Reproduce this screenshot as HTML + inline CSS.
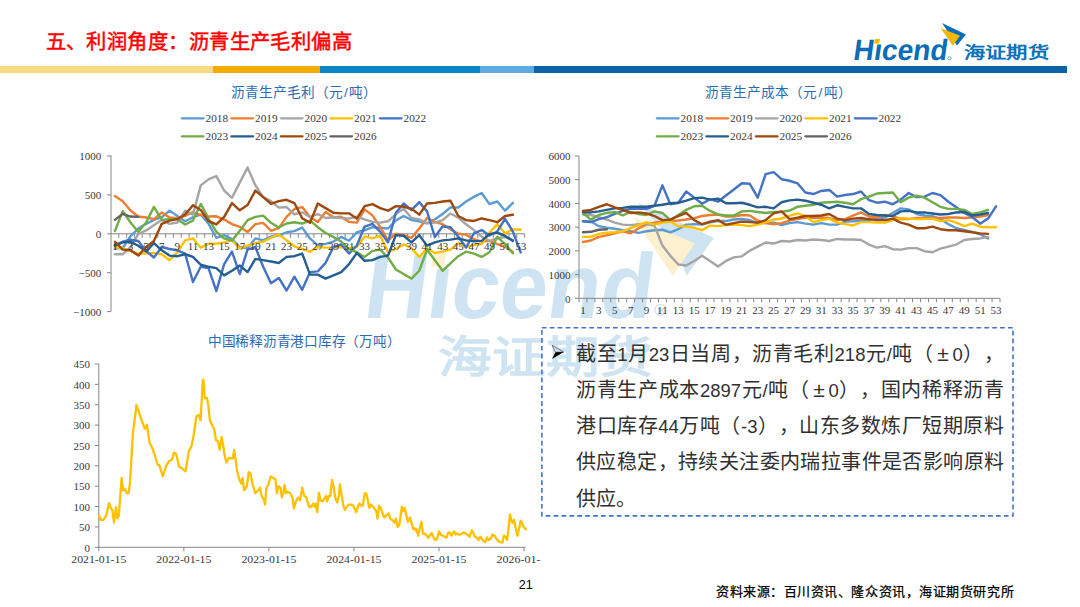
<!DOCTYPE html>
<html lang="zh-CN"><head><meta charset="utf-8"><style>
html,body{margin:0;padding:0;background:#fff;}
#s{text-spacing-trim:space-all;position:relative;width:1080px;height:607px;overflow:hidden;background:#fff;font-family:"Liberation Sans",sans-serif;}
svg{position:absolute;left:0;top:0;}
.ax{font-family:"Liberation Serif",serif;font-size:11px;fill:#383838;}
.lg{font-family:"Liberation Serif",serif;font-size:11.3px;fill:#383838;}
.ct{position:absolute;font-family:"Liberation Sans",sans-serif;font-size:13.7px;color:#2A6BB3;white-space:nowrap;line-height:16px;}
.ct i{font-style:normal;padding:0 1.5px;}
.wm{font-family:"Liberation Sans",sans-serif;font-size:87px;font-weight:bold;}
.wmc{font-family:"Liberation Sans",sans-serif;font-size:52px;font-weight:bold;fill:#CFE4F2;}
#title{position:absolute;left:45.5px;top:24.9px;font-size:20.3px;font-weight:normal;-webkit-text-stroke:0.5px #FF0000;color:#FF0000;white-space:nowrap;letter-spacing:0.45px;}
.ln{position:absolute;left:576px;width:428px;font-size:20px;color:#303030;white-space:nowrap;text-align:justify;text-align-last:justify;height:30px;line-height:30px;}
.ln b{font-weight:normal;font-size:18.5px;}
.ln b.pm{display:inline-block;width:19px;text-align:center;text-align-last:center;font-size:21px;}
#src{position:absolute;left:716px;top:581px;font-size:13px;letter-spacing:0.55px;-webkit-text-stroke:0.25px #000;font-family:"Liberation Serif",serif;color:#000;white-space:nowrap;}
#pg{position:absolute;left:518.8px;top:577.5px;font-size:12.6px;color:#000;line-height:15px;}
</style></head><body><div id="s">
<svg width="1080" height="607" viewBox="0 0 1080 607">
<polygon points="637.3,202.4 713.9,237.8 686.7,275.7 672,240" fill="#CFE4F2"/>
<polygon points="633.2,217.2 695,243.5 672.7,275.7" fill="#FDF0CF"/>
<text id="wmh" x="361.9" y="0" textLength="288.5" lengthAdjust="spacingAndGlyphs" class="wm" fill="#CFE4F2" transform="translate(0,317.6) scale(1,1.06) skewX(-8)">H&#x131;cend</text>
<polygon points="433.2,252.6 446.2,252.6 444.2,266.7 431.2,266.7" fill="#FDF0CF"/>
<circle cx="660.6" cy="310" r="5.6" fill="none" stroke="#CFE4F2" stroke-width="1.3"/><text x="657.4" y="313.6" style="font-family:Liberation Sans,sans-serif;font-size:9.5px;font-weight:bold;fill:#CFE4F2">R</text>
<text id="wmc" x="438.5" y="0" textLength="214.5" lengthAdjust="spacingAndGlyphs" class="wmc" transform="translate(0,372.8) scale(1,0.843)">海证期货</text>
</svg>
<div style="position:absolute;left:0;top:66px;width:213px;height:7px;background:#F9DA86"></div>
<div style="position:absolute;left:213px;top:66px;width:107px;height:7px;background:#F2AC00"></div>
<div style="position:absolute;left:320px;top:66px;width:160px;height:7px;background:#0A86C7"></div>
<div style="position:absolute;left:480px;top:66px;width:54px;height:7px;background:#5FABDF"></div>
<div style="position:absolute;left:534px;top:66px;width:533px;height:7px;background:#0E62A6"></div>
<div id="title">五、利润角度：沥青生产毛利偏高</div>
<svg width="1080" height="607" viewBox="0 0 1080 607">
<g>
<text id="logo" x="861" y="60" textLength="94" lengthAdjust="spacingAndGlyphs" transform="skewX(-8)" style="font-family:'Liberation Sans',sans-serif;font-size:29.5px;font-weight:bold;fill:#0A6DB8">H&#x131;cend</text>
<polygon points="875,39 880,39 879,43.5 874,43.5" fill="#F6B800"/>
<polygon points="942,23 966,34.5 957,45.5" fill="#0A6DB8"/>
<polygon points="940.5,28 960,35.8 952.8,45.8" fill="#F6B800"/>
<circle cx="949.5" cy="58.3" r="1.6" fill="none" stroke="#0A6DB8" stroke-width="0.6"/>
<text id="logoc" x="963.8" y="0" textLength="85" lengthAdjust="spacingAndGlyphs" transform="translate(0,57.9) scale(1,0.8)" style="font-family:'Liberation Sans',sans-serif;font-size:20px;font-weight:bold;fill:#0C72BA">海证期货</text>
</g>

<line x1="181.85" y1="118.3" x2="203.6" y2="118.3" stroke="#5B9BD5" stroke-width="2.3" stroke-linecap="round"/>
<text x="205.5" y="122.3" class="lg">2018</text>
<line x1="231.35" y1="118.3" x2="253.1" y2="118.3" stroke="#ED7D31" stroke-width="2.3" stroke-linecap="round"/>
<text x="255" y="122.3" class="lg">2019</text>
<line x1="280.85" y1="118.3" x2="302.6" y2="118.3" stroke="#A5A5A5" stroke-width="2.3" stroke-linecap="round"/>
<text x="304.5" y="122.3" class="lg">2020</text>
<line x1="330.35" y1="118.3" x2="352.1" y2="118.3" stroke="#FFC000" stroke-width="2.3" stroke-linecap="round"/>
<text x="354" y="122.3" class="lg">2021</text>
<line x1="379.85" y1="118.3" x2="401.6" y2="118.3" stroke="#4472C4" stroke-width="2.3" stroke-linecap="round"/>
<text x="403.5" y="122.3" class="lg">2022</text>
<line x1="181.85" y1="136.3" x2="203.6" y2="136.3" stroke="#70AD47" stroke-width="2.3" stroke-linecap="round"/>
<text x="205.5" y="140.3" class="lg">2023</text>
<line x1="231.35" y1="136.3" x2="253.1" y2="136.3" stroke="#255E91" stroke-width="2.3" stroke-linecap="round"/>
<text x="255" y="140.3" class="lg">2024</text>
<line x1="280.85" y1="136.3" x2="302.6" y2="136.3" stroke="#9E480E" stroke-width="2.3" stroke-linecap="round"/>
<text x="304.5" y="140.3" class="lg">2025</text>
<line x1="330.35" y1="136.3" x2="352.1" y2="136.3" stroke="#636363" stroke-width="2.3" stroke-linecap="round"/>
<text x="354" y="140.3" class="lg">2026</text>
<line x1="656.85" y1="118.3" x2="678.6" y2="118.3" stroke="#5B9BD5" stroke-width="2.3" stroke-linecap="round"/>
<text x="680.5" y="122.3" class="lg">2018</text>
<line x1="706.35" y1="118.3" x2="728.1" y2="118.3" stroke="#ED7D31" stroke-width="2.3" stroke-linecap="round"/>
<text x="730" y="122.3" class="lg">2019</text>
<line x1="755.85" y1="118.3" x2="777.6" y2="118.3" stroke="#A5A5A5" stroke-width="2.3" stroke-linecap="round"/>
<text x="779.5" y="122.3" class="lg">2020</text>
<line x1="805.35" y1="118.3" x2="827.1" y2="118.3" stroke="#FFC000" stroke-width="2.3" stroke-linecap="round"/>
<text x="829" y="122.3" class="lg">2021</text>
<line x1="854.85" y1="118.3" x2="876.6" y2="118.3" stroke="#4472C4" stroke-width="2.3" stroke-linecap="round"/>
<text x="878.5" y="122.3" class="lg">2022</text>
<line x1="656.85" y1="136.3" x2="678.6" y2="136.3" stroke="#70AD47" stroke-width="2.3" stroke-linecap="round"/>
<text x="680.5" y="140.3" class="lg">2023</text>
<line x1="706.35" y1="136.3" x2="728.1" y2="136.3" stroke="#255E91" stroke-width="2.3" stroke-linecap="round"/>
<text x="730" y="140.3" class="lg">2024</text>
<line x1="755.85" y1="136.3" x2="777.6" y2="136.3" stroke="#9E480E" stroke-width="2.3" stroke-linecap="round"/>
<text x="779.5" y="140.3" class="lg">2025</text>
<line x1="805.35" y1="136.3" x2="827.1" y2="136.3" stroke="#636363" stroke-width="2.3" stroke-linecap="round"/>
<text x="829" y="140.3" class="lg">2026</text>
<line x1="111.0" y1="155.5" x2="111.0" y2="311.5" stroke="#868686" stroke-width="1"/>
<line x1="107.0" y1="156" x2="111.0" y2="156" stroke="#868686" stroke-width="1"/>
<text x="101.2" y="160.2" text-anchor="end" class="ax">1000</text>
<line x1="107.0" y1="194.9" x2="111.0" y2="194.9" stroke="#868686" stroke-width="1"/>
<text x="101.2" y="199.1" text-anchor="end" class="ax">500</text>
<line x1="107.0" y1="233.8" x2="111.0" y2="233.8" stroke="#868686" stroke-width="1"/>
<text x="101.2" y="238" text-anchor="end" class="ax">0</text>
<line x1="107.0" y1="272.7" x2="111.0" y2="272.7" stroke="#868686" stroke-width="1"/>
<text x="101.2" y="276.9" text-anchor="end" class="ax">−500</text>
<line x1="107.0" y1="311.6" x2="111.0" y2="311.6" stroke="#868686" stroke-width="1"/>
<text x="101.2" y="315.8" text-anchor="end" class="ax">−1000</text>
<line x1="111.0" y1="233.8" x2="524.6" y2="233.8" stroke="#868686" stroke-width="1"/>
<line x1="118.8" y1="233.8" x2="118.8" y2="237.8" stroke="#868686" stroke-width="1"/>
<line x1="126.61" y1="233.8" x2="126.61" y2="237.8" stroke="#868686" stroke-width="1"/>
<line x1="134.41" y1="233.8" x2="134.41" y2="237.8" stroke="#868686" stroke-width="1"/>
<line x1="142.22" y1="233.8" x2="142.22" y2="237.8" stroke="#868686" stroke-width="1"/>
<line x1="150.02" y1="233.8" x2="150.02" y2="237.8" stroke="#868686" stroke-width="1"/>
<line x1="157.82" y1="233.8" x2="157.82" y2="237.8" stroke="#868686" stroke-width="1"/>
<line x1="165.63" y1="233.8" x2="165.63" y2="237.8" stroke="#868686" stroke-width="1"/>
<line x1="173.43" y1="233.8" x2="173.43" y2="237.8" stroke="#868686" stroke-width="1"/>
<line x1="181.23" y1="233.8" x2="181.23" y2="237.8" stroke="#868686" stroke-width="1"/>
<line x1="189.04" y1="233.8" x2="189.04" y2="237.8" stroke="#868686" stroke-width="1"/>
<line x1="196.84" y1="233.8" x2="196.84" y2="237.8" stroke="#868686" stroke-width="1"/>
<line x1="204.65" y1="233.8" x2="204.65" y2="237.8" stroke="#868686" stroke-width="1"/>
<line x1="212.45" y1="233.8" x2="212.45" y2="237.8" stroke="#868686" stroke-width="1"/>
<line x1="220.25" y1="233.8" x2="220.25" y2="237.8" stroke="#868686" stroke-width="1"/>
<line x1="228.06" y1="233.8" x2="228.06" y2="237.8" stroke="#868686" stroke-width="1"/>
<line x1="235.86" y1="233.8" x2="235.86" y2="237.8" stroke="#868686" stroke-width="1"/>
<line x1="243.66" y1="233.8" x2="243.66" y2="237.8" stroke="#868686" stroke-width="1"/>
<line x1="251.47" y1="233.8" x2="251.47" y2="237.8" stroke="#868686" stroke-width="1"/>
<line x1="259.27" y1="233.8" x2="259.27" y2="237.8" stroke="#868686" stroke-width="1"/>
<line x1="267.08" y1="233.8" x2="267.08" y2="237.8" stroke="#868686" stroke-width="1"/>
<line x1="274.88" y1="233.8" x2="274.88" y2="237.8" stroke="#868686" stroke-width="1"/>
<line x1="282.68" y1="233.8" x2="282.68" y2="237.8" stroke="#868686" stroke-width="1"/>
<line x1="290.49" y1="233.8" x2="290.49" y2="237.8" stroke="#868686" stroke-width="1"/>
<line x1="298.29" y1="233.8" x2="298.29" y2="237.8" stroke="#868686" stroke-width="1"/>
<line x1="306.09" y1="233.8" x2="306.09" y2="237.8" stroke="#868686" stroke-width="1"/>
<line x1="313.9" y1="233.8" x2="313.9" y2="237.8" stroke="#868686" stroke-width="1"/>
<line x1="321.7" y1="233.8" x2="321.7" y2="237.8" stroke="#868686" stroke-width="1"/>
<line x1="329.51" y1="233.8" x2="329.51" y2="237.8" stroke="#868686" stroke-width="1"/>
<line x1="337.31" y1="233.8" x2="337.31" y2="237.8" stroke="#868686" stroke-width="1"/>
<line x1="345.11" y1="233.8" x2="345.11" y2="237.8" stroke="#868686" stroke-width="1"/>
<line x1="352.92" y1="233.8" x2="352.92" y2="237.8" stroke="#868686" stroke-width="1"/>
<line x1="360.72" y1="233.8" x2="360.72" y2="237.8" stroke="#868686" stroke-width="1"/>
<line x1="368.52" y1="233.8" x2="368.52" y2="237.8" stroke="#868686" stroke-width="1"/>
<line x1="376.33" y1="233.8" x2="376.33" y2="237.8" stroke="#868686" stroke-width="1"/>
<line x1="384.13" y1="233.8" x2="384.13" y2="237.8" stroke="#868686" stroke-width="1"/>
<line x1="391.94" y1="233.8" x2="391.94" y2="237.8" stroke="#868686" stroke-width="1"/>
<line x1="399.74" y1="233.8" x2="399.74" y2="237.8" stroke="#868686" stroke-width="1"/>
<line x1="407.54" y1="233.8" x2="407.54" y2="237.8" stroke="#868686" stroke-width="1"/>
<line x1="415.35" y1="233.8" x2="415.35" y2="237.8" stroke="#868686" stroke-width="1"/>
<line x1="423.15" y1="233.8" x2="423.15" y2="237.8" stroke="#868686" stroke-width="1"/>
<line x1="430.95" y1="233.8" x2="430.95" y2="237.8" stroke="#868686" stroke-width="1"/>
<line x1="438.76" y1="233.8" x2="438.76" y2="237.8" stroke="#868686" stroke-width="1"/>
<line x1="446.56" y1="233.8" x2="446.56" y2="237.8" stroke="#868686" stroke-width="1"/>
<line x1="454.37" y1="233.8" x2="454.37" y2="237.8" stroke="#868686" stroke-width="1"/>
<line x1="462.17" y1="233.8" x2="462.17" y2="237.8" stroke="#868686" stroke-width="1"/>
<line x1="469.97" y1="233.8" x2="469.97" y2="237.8" stroke="#868686" stroke-width="1"/>
<line x1="477.78" y1="233.8" x2="477.78" y2="237.8" stroke="#868686" stroke-width="1"/>
<line x1="485.58" y1="233.8" x2="485.58" y2="237.8" stroke="#868686" stroke-width="1"/>
<line x1="493.38" y1="233.8" x2="493.38" y2="237.8" stroke="#868686" stroke-width="1"/>
<line x1="501.19" y1="233.8" x2="501.19" y2="237.8" stroke="#868686" stroke-width="1"/>
<line x1="508.99" y1="233.8" x2="508.99" y2="237.8" stroke="#868686" stroke-width="1"/>
<line x1="516.8" y1="233.8" x2="516.8" y2="237.8" stroke="#868686" stroke-width="1"/>
<line x1="524.6" y1="233.8" x2="524.6" y2="237.8" stroke="#868686" stroke-width="1"/>
<polyline points="114.9,248.27 122.71,248.27 130.51,236.13 138.31,228.51 146.12,223.84 153.92,219.87 161.72,217.23 169.53,210.62 177.33,215.91 185.14,221.2 192.94,217.23 200.74,214.58 208.55,223.84 216.35,237.77 224.15,235.12 231.96,239.09 239.76,247.03 247.57,248.27 255.37,238.39 263.17,240.41 270.98,236.45 278.78,235.36 286.58,232.24 294.39,231.08 302.19,227.58 310,238.47 317.8,245.47 325.6,243.91 333.41,241.58 341.21,236.91 349.02,240.8 356.82,232.24 364.62,230.3 372.43,227.19 380.23,227.89 388.03,228.51 395.84,220.57 403.64,215.98 411.45,219.95 419.25,221.27 427.05,223.22 434.86,219.33 442.66,214.04 450.46,207.43 458.27,207.43 466.07,201.51 473.88,196.85 481.68,192.96 489.48,204.16 497.29,201.51 505.09,210.69 512.89,202.84" fill="none" stroke="#5B9BD5" stroke-width="2.4" stroke-linejoin="round" stroke-linecap="round"/>
<polyline points="114.9,195.99 122.71,201.28 130.51,210.54 138.31,216.53 146.12,217.46 153.92,219.17 161.72,212.56 169.53,217.46 177.33,218.24 185.14,215.91 192.94,212.02 200.74,215.13 208.55,216.53 216.35,216.3 224.15,219.56 231.96,224.15 239.76,226.8 247.57,232.09 255.37,224.15 263.17,222.83 270.98,230.77 278.78,228.12 286.58,216.92 294.39,208.98 302.19,207.04 310,216.92 317.8,221.9 325.6,212.02 333.41,217.31 341.21,216.68 349.02,221.9 356.82,222.6 364.62,209.37 372.43,215.36 380.23,227.19 388.03,240.41 395.84,233.8 403.64,235.12 411.45,237.77 419.25,228.51 427.05,218.01 434.86,221.9 442.66,224.23 450.46,229.21 458.27,233.8 466.07,234.66 473.88,239.17 481.68,241.66 489.48,240.88 497.29,244.15 505.09,246.64 512.89,252.08" fill="none" stroke="#ED7D31" stroke-width="2.4" stroke-linejoin="round" stroke-linecap="round"/>
<polyline points="114.9,254.26 122.71,254.26 130.51,247.03 138.31,233.8 146.12,230.45 153.92,225.16 161.72,219.87 169.53,223.84 177.33,222.52 185.14,210.62 192.94,214.58 200.74,185.33 208.55,179.34 216.35,176.07 224.15,190.54 231.96,197.78 239.76,182.61 247.57,167.44 255.37,185.25 263.17,197.16 270.98,201.12 278.78,207.66 286.58,207.04 294.39,214.27 302.19,212.33 310,216.92 317.8,214.04 325.6,218.01 333.41,217.31 341.21,218.01 349.02,218.63 356.82,216.68 364.62,219.33 372.43,221.9 380.23,222.6 388.03,221.27 395.84,214.04 403.64,208.75 411.45,218.01 419.25,219.33 427.05,223.22 434.86,222.6 442.66,220.11 450.46,213.49 458.27,217.62 466.07,224.23 473.88,230.07 481.68,236.68 489.48,240.88 497.29,238.39 505.09,237.15 512.89,240.02" fill="none" stroke="#A5A5A5" stroke-width="2.4" stroke-linejoin="round" stroke-linecap="round"/>
<polyline points="114.9,247.03 122.71,248.27 130.51,250.92 138.31,253.56 146.12,253.56 153.92,252.94 161.72,254.26 169.53,260.17 177.33,252.24 185.14,240.41 192.94,238.39 200.74,247.65 208.55,243.68 216.35,243.68 224.15,242.36 231.96,240.41 239.76,248.27 247.57,245.7 255.37,243.06 263.17,241.74 270.98,237.77 278.78,234.42 286.58,240.41 294.39,246.33 302.19,248.97 310,251.62 317.8,247.03 325.6,247.65 333.41,247.65 341.21,247.03 349.02,248.27 356.82,247.03 364.62,236.45 372.43,238.39 380.23,235.75 388.03,252.24 395.84,248.97 403.64,244.38 411.45,248.27 419.25,256.91 427.05,248.27 434.86,252.94 442.66,251.62 450.46,249.59 458.27,243.14 466.07,247.03 473.88,245 481.68,244.15 489.48,232.56 497.29,224.23 505.09,233.41 512.89,229.21 520.7,229.68" fill="none" stroke="#FFC000" stroke-width="2.4" stroke-linejoin="round" stroke-linecap="round"/>
<polyline points="114.9,245 122.71,241.74 130.51,239.71 138.31,241.04 146.12,250.92 153.92,257.53 161.72,247.03 169.53,248.97 177.33,250.29 185.14,253.56 192.94,281.96 200.74,266.79 208.55,268.11 216.35,291.14 224.15,264.14 231.96,251.62 239.76,274.02 247.57,249.59 255.37,247.03 263.17,266.79 270.98,283.28 278.78,277.99 286.58,290.52 294.39,276.67 302.19,289.82 310,272.08 317.8,271.38 325.6,262.82 333.41,247.03 341.21,244.38 349.02,253.56 356.82,245.47 364.62,226.56 372.43,223.92 380.23,231.86 388.03,242.36 395.84,212.72 403.64,203.46 411.45,210.07 419.25,202.14 427.05,211.39 434.86,237.07 442.66,226.33 450.46,227.19 458.27,236.68 466.07,247.49 473.88,233.41 481.68,230.07 489.48,235.43 497.29,231.47 505.09,218.86 512.89,231.7 520.7,252.47" fill="none" stroke="#4472C4" stroke-width="2.4" stroke-linejoin="round" stroke-linecap="round"/>
<polyline points="114.9,231.15 122.71,211.24 130.51,222.52 138.31,231.78 146.12,222.52 153.92,206.88 161.72,219.87 169.53,219.17 177.33,219.17 185.14,224.54 192.94,220.57 200.74,203.92 208.55,218.55 216.35,231.78 224.15,238.47 231.96,240.8 239.76,230.69 247.57,220.19 255.37,216.92 263.17,215.59 270.98,222.83 278.78,227.5 286.58,223.53 294.39,222.21 302.19,223.53 310,220.57 317.8,227.19 325.6,233.02 333.41,236.91 341.21,241.58 349.02,249.36 356.82,252.24 364.62,256.91 372.43,250.92 380.23,249.59 388.03,257.53 395.84,269.43 403.64,274.02 411.45,278.61 419.25,270.75 427.05,249.59 434.86,260.17 442.66,270.75 450.46,263.44 458.27,256.21 466.07,251.69 473.88,253.56 481.68,256.91 489.48,252.24 497.29,236.91 505.09,244.15 512.89,253.25" fill="none" stroke="#70AD47" stroke-width="2.4" stroke-linejoin="round" stroke-linecap="round"/>
<polyline points="114.9,245.7 122.71,242.36 130.51,241.74 138.31,245.7 146.12,251.62 153.92,243.06 161.72,250.29 169.53,255.58 177.33,256.21 185.14,254.26 192.94,256.91 200.74,264.76 208.55,266.79 216.35,268.11 224.15,275.35 231.96,270.75 239.76,265.46 247.57,272.08 255.37,258.85 263.17,260.17 270.98,261.5 278.78,263.05 286.58,256.91 294.39,256.21 302.19,253.56 310,274.64 317.8,274.64 325.6,278.61 333.41,275.35 341.21,272.08 349.02,264.14 356.82,252.94 364.62,260.8 372.43,260.17 380.23,256.91 388.03,255.58 395.84,235.12 403.64,235.75 411.45,242.36 419.25,235.12 427.05,245.7 434.86,242.36 442.66,240.41 450.46,239.64 458.27,238.39 466.07,240.41 473.88,241.27 481.68,240.88 489.48,234.19 497.29,232.56 505.09,235.9 512.89,240.88" fill="none" stroke="#255E91" stroke-width="2.4" stroke-linejoin="round" stroke-linecap="round"/>
<polyline points="114.9,241.74 122.71,249.59 130.51,250.29 138.31,255.58 146.12,247.03 153.92,241.04 161.72,223.84 169.53,220.57 177.33,219.17 185.14,214.58 192.94,205.25 200.74,209.92 208.55,221.2 216.35,224.46 224.15,216.92 231.96,203.07 239.76,210.3 247.57,205.01 255.37,190.54 263.17,197.16 270.98,203.77 278.78,201.12 286.58,199.8 294.39,203.07 302.19,218.24 310,222.83 317.8,203.46 325.6,208.13 333.41,212.72 341.21,213.34 349.02,213.34 356.82,218.63 364.62,206.1 372.43,204.16 380.23,208.13 388.03,210.69 395.84,206.1 403.64,206.8 411.45,208.75 419.25,214.66 427.05,203.46 434.86,202.84 442.66,201.51 450.46,200.81 458.27,215.98 466.07,220.11 473.88,220.96 481.68,218.47 489.48,220.11 497.29,222.21 505.09,215.98 512.89,214.74" fill="none" stroke="#9E480E" stroke-width="2.4" stroke-linejoin="round" stroke-linecap="round"/>
<polyline points="114.9,219.87 122.71,213.88 130.51,216.53 138.31,216.92" fill="none" stroke="#636363" stroke-width="2.4" stroke-linejoin="round" stroke-linecap="round"/>
<text x="114.9" y="249.8" text-anchor="middle" class="ax">1</text>
<text x="130.51" y="249.8" text-anchor="middle" class="ax">3</text>
<text x="146.12" y="249.8" text-anchor="middle" class="ax">5</text>
<text x="161.72" y="249.8" text-anchor="middle" class="ax">7</text>
<text x="177.33" y="249.8" text-anchor="middle" class="ax">9</text>
<text x="192.94" y="249.8" text-anchor="middle" class="ax">11</text>
<text x="208.55" y="249.8" text-anchor="middle" class="ax">13</text>
<text x="224.15" y="249.8" text-anchor="middle" class="ax">15</text>
<text x="239.76" y="249.8" text-anchor="middle" class="ax">17</text>
<text x="255.37" y="249.8" text-anchor="middle" class="ax">19</text>
<text x="270.98" y="249.8" text-anchor="middle" class="ax">21</text>
<text x="286.58" y="249.8" text-anchor="middle" class="ax">23</text>
<text x="302.19" y="249.8" text-anchor="middle" class="ax">25</text>
<text x="317.8" y="249.8" text-anchor="middle" class="ax">27</text>
<text x="333.41" y="249.8" text-anchor="middle" class="ax">29</text>
<text x="349.02" y="249.8" text-anchor="middle" class="ax">31</text>
<text x="364.62" y="249.8" text-anchor="middle" class="ax">33</text>
<text x="380.23" y="249.8" text-anchor="middle" class="ax">35</text>
<text x="395.84" y="249.8" text-anchor="middle" class="ax">37</text>
<text x="411.45" y="249.8" text-anchor="middle" class="ax">39</text>
<text x="427.05" y="249.8" text-anchor="middle" class="ax">41</text>
<text x="442.66" y="249.8" text-anchor="middle" class="ax">43</text>
<text x="458.27" y="249.8" text-anchor="middle" class="ax">45</text>
<text x="473.88" y="249.8" text-anchor="middle" class="ax">47</text>
<text x="489.48" y="249.8" text-anchor="middle" class="ax">49</text>
<text x="505.09" y="249.8" text-anchor="middle" class="ax">51</text>
<text x="520.7" y="249.8" text-anchor="middle" class="ax">53</text>
<line x1="579.0" y1="156" x2="579.0" y2="298.3" stroke="#868686" stroke-width="1"/>
<line x1="575.0" y1="298.3" x2="579.0" y2="298.3" stroke="#868686" stroke-width="1"/>
<text x="570.5" y="302.5" text-anchor="end" class="ax">0</text>
<line x1="575.0" y1="274.58" x2="579.0" y2="274.58" stroke="#868686" stroke-width="1"/>
<text x="570.5" y="278.78" text-anchor="end" class="ax">1000</text>
<line x1="575.0" y1="250.86" x2="579.0" y2="250.86" stroke="#868686" stroke-width="1"/>
<text x="570.5" y="255.06" text-anchor="end" class="ax">2000</text>
<line x1="575.0" y1="227.14" x2="579.0" y2="227.14" stroke="#868686" stroke-width="1"/>
<text x="570.5" y="231.34" text-anchor="end" class="ax">3000</text>
<line x1="575.0" y1="203.42" x2="579.0" y2="203.42" stroke="#868686" stroke-width="1"/>
<text x="570.5" y="207.62" text-anchor="end" class="ax">4000</text>
<line x1="575.0" y1="179.7" x2="579.0" y2="179.7" stroke="#868686" stroke-width="1"/>
<text x="570.5" y="183.9" text-anchor="end" class="ax">5000</text>
<line x1="575.0" y1="155.98" x2="579.0" y2="155.98" stroke="#868686" stroke-width="1"/>
<text x="570.5" y="160.18" text-anchor="end" class="ax">6000</text>
<line x1="579.0" y1="298.3" x2="1000.0" y2="298.3" stroke="#868686" stroke-width="1"/>
<line x1="579" y1="298.3" x2="579" y2="302.3" stroke="#868686" stroke-width="1"/>
<line x1="586.94" y1="298.3" x2="586.94" y2="302.3" stroke="#868686" stroke-width="1"/>
<line x1="594.89" y1="298.3" x2="594.89" y2="302.3" stroke="#868686" stroke-width="1"/>
<line x1="602.83" y1="298.3" x2="602.83" y2="302.3" stroke="#868686" stroke-width="1"/>
<line x1="610.77" y1="298.3" x2="610.77" y2="302.3" stroke="#868686" stroke-width="1"/>
<line x1="618.72" y1="298.3" x2="618.72" y2="302.3" stroke="#868686" stroke-width="1"/>
<line x1="626.66" y1="298.3" x2="626.66" y2="302.3" stroke="#868686" stroke-width="1"/>
<line x1="634.6" y1="298.3" x2="634.6" y2="302.3" stroke="#868686" stroke-width="1"/>
<line x1="642.55" y1="298.3" x2="642.55" y2="302.3" stroke="#868686" stroke-width="1"/>
<line x1="650.49" y1="298.3" x2="650.49" y2="302.3" stroke="#868686" stroke-width="1"/>
<line x1="658.43" y1="298.3" x2="658.43" y2="302.3" stroke="#868686" stroke-width="1"/>
<line x1="666.38" y1="298.3" x2="666.38" y2="302.3" stroke="#868686" stroke-width="1"/>
<line x1="674.32" y1="298.3" x2="674.32" y2="302.3" stroke="#868686" stroke-width="1"/>
<line x1="682.26" y1="298.3" x2="682.26" y2="302.3" stroke="#868686" stroke-width="1"/>
<line x1="690.21" y1="298.3" x2="690.21" y2="302.3" stroke="#868686" stroke-width="1"/>
<line x1="698.15" y1="298.3" x2="698.15" y2="302.3" stroke="#868686" stroke-width="1"/>
<line x1="706.09" y1="298.3" x2="706.09" y2="302.3" stroke="#868686" stroke-width="1"/>
<line x1="714.04" y1="298.3" x2="714.04" y2="302.3" stroke="#868686" stroke-width="1"/>
<line x1="721.98" y1="298.3" x2="721.98" y2="302.3" stroke="#868686" stroke-width="1"/>
<line x1="729.92" y1="298.3" x2="729.92" y2="302.3" stroke="#868686" stroke-width="1"/>
<line x1="737.87" y1="298.3" x2="737.87" y2="302.3" stroke="#868686" stroke-width="1"/>
<line x1="745.81" y1="298.3" x2="745.81" y2="302.3" stroke="#868686" stroke-width="1"/>
<line x1="753.75" y1="298.3" x2="753.75" y2="302.3" stroke="#868686" stroke-width="1"/>
<line x1="761.7" y1="298.3" x2="761.7" y2="302.3" stroke="#868686" stroke-width="1"/>
<line x1="769.64" y1="298.3" x2="769.64" y2="302.3" stroke="#868686" stroke-width="1"/>
<line x1="777.58" y1="298.3" x2="777.58" y2="302.3" stroke="#868686" stroke-width="1"/>
<line x1="785.53" y1="298.3" x2="785.53" y2="302.3" stroke="#868686" stroke-width="1"/>
<line x1="793.47" y1="298.3" x2="793.47" y2="302.3" stroke="#868686" stroke-width="1"/>
<line x1="801.42" y1="298.3" x2="801.42" y2="302.3" stroke="#868686" stroke-width="1"/>
<line x1="809.36" y1="298.3" x2="809.36" y2="302.3" stroke="#868686" stroke-width="1"/>
<line x1="817.3" y1="298.3" x2="817.3" y2="302.3" stroke="#868686" stroke-width="1"/>
<line x1="825.25" y1="298.3" x2="825.25" y2="302.3" stroke="#868686" stroke-width="1"/>
<line x1="833.19" y1="298.3" x2="833.19" y2="302.3" stroke="#868686" stroke-width="1"/>
<line x1="841.13" y1="298.3" x2="841.13" y2="302.3" stroke="#868686" stroke-width="1"/>
<line x1="849.08" y1="298.3" x2="849.08" y2="302.3" stroke="#868686" stroke-width="1"/>
<line x1="857.02" y1="298.3" x2="857.02" y2="302.3" stroke="#868686" stroke-width="1"/>
<line x1="864.96" y1="298.3" x2="864.96" y2="302.3" stroke="#868686" stroke-width="1"/>
<line x1="872.91" y1="298.3" x2="872.91" y2="302.3" stroke="#868686" stroke-width="1"/>
<line x1="880.85" y1="298.3" x2="880.85" y2="302.3" stroke="#868686" stroke-width="1"/>
<line x1="888.79" y1="298.3" x2="888.79" y2="302.3" stroke="#868686" stroke-width="1"/>
<line x1="896.74" y1="298.3" x2="896.74" y2="302.3" stroke="#868686" stroke-width="1"/>
<line x1="904.68" y1="298.3" x2="904.68" y2="302.3" stroke="#868686" stroke-width="1"/>
<line x1="912.62" y1="298.3" x2="912.62" y2="302.3" stroke="#868686" stroke-width="1"/>
<line x1="920.57" y1="298.3" x2="920.57" y2="302.3" stroke="#868686" stroke-width="1"/>
<line x1="928.51" y1="298.3" x2="928.51" y2="302.3" stroke="#868686" stroke-width="1"/>
<line x1="936.45" y1="298.3" x2="936.45" y2="302.3" stroke="#868686" stroke-width="1"/>
<line x1="944.4" y1="298.3" x2="944.4" y2="302.3" stroke="#868686" stroke-width="1"/>
<line x1="952.34" y1="298.3" x2="952.34" y2="302.3" stroke="#868686" stroke-width="1"/>
<line x1="960.28" y1="298.3" x2="960.28" y2="302.3" stroke="#868686" stroke-width="1"/>
<line x1="968.23" y1="298.3" x2="968.23" y2="302.3" stroke="#868686" stroke-width="1"/>
<line x1="976.17" y1="298.3" x2="976.17" y2="302.3" stroke="#868686" stroke-width="1"/>
<line x1="984.11" y1="298.3" x2="984.11" y2="302.3" stroke="#868686" stroke-width="1"/>
<line x1="992.06" y1="298.3" x2="992.06" y2="302.3" stroke="#868686" stroke-width="1"/>
<line x1="1000" y1="298.3" x2="1000" y2="302.3" stroke="#868686" stroke-width="1"/>
<polyline points="582.97,221.26 590.92,221.57 598.86,226.17 606.8,227.71 614.75,228.73 622.69,230.25 630.63,231.29 638.58,232.81 646.52,231.29 654.46,230.25 662.41,229.75 670.35,232.31 678.29,229.23 686.24,224.63 694.18,224.13 702.12,224.53 710.07,222.4 718.01,221.07 725.95,221.07 733.9,219.55 741.84,219 749.78,220.02 757.73,223.11 765.67,223.11 773.61,222.63 781.56,225.15 789.5,223.11 797.44,222.09 805.39,223.61 813.33,224.63 821.27,223.11 829.22,224.63 837.16,224.63 845.1,221.57 853.05,221.21 860.99,220.5 868.93,220.02 876.88,218.84 884.82,217.65 892.76,212.96 900.71,208.35 908.65,209.37 916.59,213.98 924.54,215.52 932.48,216.02 940.42,219.08 948.37,224.13 956.31,228.21 964.25,229.99 972.2,231.88 980.14,234.26 988.08,238.43" fill="none" stroke="#5B9BD5" stroke-width="2.4" stroke-linejoin="round" stroke-linecap="round"/>
<polyline points="582.97,242.01 590.92,240.47 598.86,236.91 606.8,235.37 614.75,233.33 622.69,231.29 630.63,233.33 638.58,228.21 646.52,224.63 654.46,222.59 662.41,221.57 670.35,221.07 678.29,220.55 686.24,219.53 694.18,218.06 702.12,216.02 710.07,215 718.01,214.47 725.95,216.54 733.9,216.54 741.84,215 749.78,215.52 757.73,220.62 765.67,223.18 773.61,224.2 781.56,223.18 789.5,220.62 797.44,219.08 805.39,217.56 813.33,218.06 821.27,217.56 829.22,218.06 837.16,220.1 845.1,219.08 853.05,215.52 860.99,212.43 868.93,216.54 876.88,217.04 884.82,215 892.76,216.02 900.71,219.08 908.65,219.08 916.59,218.06 924.54,218.06 932.48,218.06 940.42,218.06 948.37,217.56 956.31,217.56 964.25,218.06 972.2,217.56 980.14,216.54 988.08,215" fill="none" stroke="#ED7D31" stroke-width="2.4" stroke-linejoin="round" stroke-linecap="round"/>
<polyline points="582.97,214.47 590.92,215 598.86,217.18 606.8,219.53 614.75,222.59 622.69,224.63 630.63,225.15 638.58,224.13 646.52,224.13 654.46,225.65 662.41,245.59 670.35,255.82 678.29,264.5 686.24,265.52 694.18,260.92 702.12,255.82 710.07,260.92 718.01,266.56 725.95,260.92 733.9,257.36 741.84,256.32 749.78,250.69 757.73,246.61 765.67,242.53 773.61,243.55 781.56,240.99 789.5,241.51 797.44,239.97 805.39,240.49 813.33,239.45 821.27,239.97 829.22,240.99 837.16,238.95 845.1,239.45 853.05,239.45 860.99,239.97 868.93,244.57 876.88,247.63 884.82,246.12 892.76,249.18 900.71,249.67 908.65,248.16 916.59,248.16 924.54,251.22 932.48,252.24 940.42,248.65 948.37,246.61 956.31,244.57 964.25,239.97 972.2,238.95 980.14,238.43 988.08,236.91" fill="none" stroke="#A5A5A5" stroke-width="2.4" stroke-linejoin="round" stroke-linecap="round"/>
<polyline points="582.97,236.91 590.92,236.91 598.86,233.83 606.8,232.81 614.75,232.31 622.69,231.29 630.63,228.21 638.58,225.15 646.52,222.09 654.46,224.63 662.41,222.59 670.35,221.57 678.29,226.17 686.24,226.43 694.18,227.71 702.12,230.25 710.07,225.65 718.01,226.17 725.95,225.15 733.9,224.63 741.84,225.15 749.78,226.17 757.73,224.63 765.67,222.09 773.61,219.53 781.56,218.51 789.5,215.94 797.44,213.45 805.39,216.02 813.33,222.16 821.27,220.1 829.22,218.58 837.16,222.63 845.1,224.06 853.05,225.48 860.99,222.16 868.93,222.16 876.88,222.63 884.82,222.63 892.76,220.02 900.71,218.06 908.65,218.58 916.59,219.08 924.54,219.08 932.48,218.58 940.42,221.14 948.37,220.1 956.31,222.66 964.25,226.17 972.2,223.61 980.14,226.69 988.08,227.19 996.03,227.19" fill="none" stroke="#FFC000" stroke-width="2.4" stroke-linejoin="round" stroke-linecap="round"/>
<polyline points="582.97,221.21 590.92,222.09 598.86,219.08 606.8,217.04 614.75,213.98 622.69,210.92 630.63,208.85 638.58,208.85 646.52,208.85 654.46,205.79 662.41,185.35 670.35,204.25 678.29,202.73 686.24,191.49 694.18,197.61 702.12,203.75 710.07,199.15 718.01,201.71 725.95,195.57 733.9,189.43 741.84,183.31 749.78,183.8 757.73,197.61 765.67,174.1 773.61,172.06 781.56,179.2 789.5,180.74 797.44,183.31 805.39,192.51 813.33,194.03 821.27,190.97 829.22,189.95 837.16,196.59 845.1,195.05 853.05,194.03 860.99,191.49 868.93,200.17 876.88,202.73 884.82,201.71 892.76,204.25 900.71,199.65 908.65,193.01 916.59,197.11 924.54,196.59 932.48,193.01 940.42,195.05 948.37,201.71 956.31,207.33 964.25,212.96 972.2,217.04 980.14,223.68 988.08,218.58 996.03,206.31" fill="none" stroke="#4472C4" stroke-width="2.4" stroke-linejoin="round" stroke-linecap="round"/>
<polyline points="582.97,212.96 590.92,219.6 598.86,215 606.8,212.96 614.75,211.94 622.69,215.52 630.63,211.94 638.58,213.98 646.52,215 654.46,211.41 662.41,212.96 670.35,220.1 678.29,215 686.24,209.87 694.18,206.31 702.12,205.79 710.07,210.92 718.01,214.47 725.95,215.52 733.9,215.52 741.84,211.41 749.78,210.92 757.73,211.94 765.67,212.96 773.61,211.94 781.56,211.94 789.5,210.54 797.44,206.81 805.39,205.79 813.33,204.77 821.27,202.73 829.22,202.21 837.16,201.71 845.1,202.73 853.05,204.25 860.99,199.15 868.93,196.59 876.88,193.53 884.82,193.01 892.76,192.51 900.71,202.21 908.65,197.61 916.59,195.57 924.54,197.61 932.48,202.21 940.42,206.81 948.37,208.85 956.31,208.85 964.25,209.87 972.2,213.98 980.14,212.43 988.08,209.87" fill="none" stroke="#70AD47" stroke-width="2.4" stroke-linejoin="round" stroke-linecap="round"/>
<polyline points="582.97,211.94 590.92,212.43 598.86,211.41 606.8,209.87 614.75,208.4 622.69,207.83 630.63,206.81 638.58,206.81 646.52,206.81 654.46,205.79 662.41,204.77 670.35,203.23 678.29,202.73 686.24,200.69 694.18,198.13 702.12,197.61 710.07,199.65 718.01,198.63 725.95,203.23 733.9,203.23 741.84,202.73 749.78,204.77 757.73,207.33 765.67,206.81 773.61,208.35 781.56,202.21 789.5,200.34 797.44,199.65 805.39,200.69 813.33,202.73 821.27,204.77 829.22,208.35 837.16,205.29 845.1,206.81 853.05,208.35 860.99,208.35 868.93,213.98 876.88,215 884.82,215.52 892.76,216.02 900.71,211.41 908.65,210.92 916.59,212.43 924.54,212.43 932.48,213.45 940.42,214.47 948.37,213.98 956.31,212.43 964.25,211.94 972.2,215.52 980.14,214.47 988.08,212.96" fill="none" stroke="#255E91" stroke-width="2.4" stroke-linejoin="round" stroke-linecap="round"/>
<polyline points="582.97,210.92 590.92,209.87 598.86,206.81 606.8,204.25 614.75,207.33 622.69,209.87 630.63,212.96 638.58,212.43 646.52,213.45 654.46,216.02 662.41,220.1 670.35,219.6 678.29,216.02 686.24,212.96 694.18,220.1 702.12,224.2 710.07,221.64 718.01,220.1 725.95,224.7 733.9,223.18 741.84,221.64 749.78,222.16 757.73,222.66 765.67,220.1 773.61,213.45 781.56,211.41 789.5,219.08 797.44,217.56 805.39,216.02 813.33,216.02 821.27,215.52 829.22,213.98 837.16,218.58 845.1,220.1 853.05,218.58 860.99,218.06 868.93,219.08 876.88,220.1 884.82,220.1 892.76,218.6 900.71,222.59 908.65,224.63 916.59,228.21 924.54,228.21 932.48,226.69 940.42,229.23 948.37,230.25 956.31,230.25 964.25,231.29 972.2,232.31 980.14,233.33 988.08,233.83" fill="none" stroke="#9E480E" stroke-width="2.4" stroke-linejoin="round" stroke-linecap="round"/>
<polyline points="582.97,232.31 590.92,231.79 598.86,229.75 606.8,229.23" fill="none" stroke="#636363" stroke-width="2.4" stroke-linejoin="round" stroke-linecap="round"/>
<text x="582.97" y="314.3" text-anchor="middle" class="ax">1</text>
<text x="598.86" y="314.3" text-anchor="middle" class="ax">3</text>
<text x="614.75" y="314.3" text-anchor="middle" class="ax">5</text>
<text x="630.63" y="314.3" text-anchor="middle" class="ax">7</text>
<text x="646.52" y="314.3" text-anchor="middle" class="ax">9</text>
<text x="662.41" y="314.3" text-anchor="middle" class="ax">11</text>
<text x="678.29" y="314.3" text-anchor="middle" class="ax">13</text>
<text x="694.18" y="314.3" text-anchor="middle" class="ax">15</text>
<text x="710.07" y="314.3" text-anchor="middle" class="ax">17</text>
<text x="725.95" y="314.3" text-anchor="middle" class="ax">19</text>
<text x="741.84" y="314.3" text-anchor="middle" class="ax">21</text>
<text x="757.73" y="314.3" text-anchor="middle" class="ax">23</text>
<text x="773.61" y="314.3" text-anchor="middle" class="ax">25</text>
<text x="789.5" y="314.3" text-anchor="middle" class="ax">27</text>
<text x="805.39" y="314.3" text-anchor="middle" class="ax">29</text>
<text x="821.27" y="314.3" text-anchor="middle" class="ax">31</text>
<text x="837.16" y="314.3" text-anchor="middle" class="ax">33</text>
<text x="853.05" y="314.3" text-anchor="middle" class="ax">35</text>
<text x="868.93" y="314.3" text-anchor="middle" class="ax">37</text>
<text x="884.82" y="314.3" text-anchor="middle" class="ax">39</text>
<text x="900.71" y="314.3" text-anchor="middle" class="ax">41</text>
<text x="916.59" y="314.3" text-anchor="middle" class="ax">43</text>
<text x="932.48" y="314.3" text-anchor="middle" class="ax">45</text>
<text x="948.37" y="314.3" text-anchor="middle" class="ax">47</text>
<text x="964.25" y="314.3" text-anchor="middle" class="ax">49</text>
<text x="980.14" y="314.3" text-anchor="middle" class="ax">51</text>
<text x="996.03" y="314.3" text-anchor="middle" class="ax">53</text>
<line x1="98.8" y1="364" x2="98.8" y2="547.3" stroke="#868686" stroke-width="1"/>
<line x1="94.8" y1="547.3" x2="98.8" y2="547.3" stroke="#868686" stroke-width="1"/>
<text x="90" y="551.5" text-anchor="end" class="ax">0</text>
<line x1="94.8" y1="526.93" x2="98.8" y2="526.93" stroke="#868686" stroke-width="1"/>
<text x="90" y="531.13" text-anchor="end" class="ax">50</text>
<line x1="94.8" y1="506.57" x2="98.8" y2="506.57" stroke="#868686" stroke-width="1"/>
<text x="90" y="510.77" text-anchor="end" class="ax">100</text>
<line x1="94.8" y1="486.2" x2="98.8" y2="486.2" stroke="#868686" stroke-width="1"/>
<text x="90" y="490.4" text-anchor="end" class="ax">150</text>
<line x1="94.8" y1="465.83" x2="98.8" y2="465.83" stroke="#868686" stroke-width="1"/>
<text x="90" y="470.03" text-anchor="end" class="ax">200</text>
<line x1="94.8" y1="445.47" x2="98.8" y2="445.47" stroke="#868686" stroke-width="1"/>
<text x="90" y="449.67" text-anchor="end" class="ax">250</text>
<line x1="94.8" y1="425.1" x2="98.8" y2="425.1" stroke="#868686" stroke-width="1"/>
<text x="90" y="429.3" text-anchor="end" class="ax">300</text>
<line x1="94.8" y1="404.73" x2="98.8" y2="404.73" stroke="#868686" stroke-width="1"/>
<text x="90" y="408.93" text-anchor="end" class="ax">350</text>
<line x1="94.8" y1="384.37" x2="98.8" y2="384.37" stroke="#868686" stroke-width="1"/>
<text x="90" y="388.57" text-anchor="end" class="ax">400</text>
<line x1="94.8" y1="364" x2="98.8" y2="364" stroke="#868686" stroke-width="1"/>
<text x="90" y="368.2" text-anchor="end" class="ax">450</text>
<line x1="98.8" y1="547.3" x2="525.6" y2="547.3" stroke="#868686" stroke-width="1"/>
<line x1="98.8" y1="547.3" x2="98.8" y2="551.3" stroke="#868686" stroke-width="1"/>
<text x="71.3" y="562.9" textLength="55" lengthAdjust="spacingAndGlyphs" class="ax">2021-01-15</text>
<line x1="183.85" y1="547.3" x2="183.85" y2="551.3" stroke="#868686" stroke-width="1"/>
<text x="156.35" y="562.9" textLength="55" lengthAdjust="spacingAndGlyphs" class="ax">2022-01-15</text>
<line x1="268.9" y1="547.3" x2="268.9" y2="551.3" stroke="#868686" stroke-width="1"/>
<text x="241.4" y="562.9" textLength="55" lengthAdjust="spacingAndGlyphs" class="ax">2023-01-15</text>
<line x1="353.95" y1="547.3" x2="353.95" y2="551.3" stroke="#868686" stroke-width="1"/>
<text x="326.45" y="562.9" textLength="55" lengthAdjust="spacingAndGlyphs" class="ax">2024-01-15</text>
<line x1="439" y1="547.3" x2="439" y2="551.3" stroke="#868686" stroke-width="1"/>
<text x="411.5" y="562.9" textLength="55" lengthAdjust="spacingAndGlyphs" class="ax">2025-01-15</text>
<line x1="524.05" y1="547.3" x2="524.05" y2="551.3" stroke="#868686" stroke-width="1"/>
<text x="496.55" y="562.9" textLength="44" lengthAdjust="spacingAndGlyphs" class="ax">2026-01-</text>
<polyline points="99.2,515.66 100.6,519.86 103.4,519.86 106.2,515.66 109.01,503.05 110.41,507.25 112.37,510.06 114.05,522.66 116.01,507.25 117.41,518.46 118.81,515.66 121.61,477.84 123.01,490.45 125.25,489.05 126.65,493.25 128.61,493.25 130.01,482.04 132.82,434.43 136.46,405.01 138.42,410.62 141.22,419.02 144.86,428.82 146.82,424.62 149.62,442.83 152.42,448.43 155.22,456.83 158.03,465.24 159.43,465.24 162.79,476.44 166.43,465.24 169.23,461.04 172.03,459.64 173.99,452.63 176.23,454.03 179.03,466.64 181.83,468.04 185.48,471.4 188.84,451.23 191.64,445.63 193.6,435.83 196.4,416.22 197.24,416.22 198.64,414.82 199.2,414.82 200.32,420.42 200.6,420.42 202.84,379.8 203.4,379.8 204.8,398.01 205.08,398.01 206.76,398.01 207.04,398.01 208.45,406.41 209.85,420.42 210.41,421.82 212.09,424.62 212.37,426.02 214.05,428.82 216.01,440.03 217.97,441.43 219.65,449.83 221.61,437.23 223.01,444.23 224.41,454.03 226.37,462.44 228.61,458.24 231.41,458.24 232.82,458.24 234.22,449.83 235.62,459.64 237.02,470.84 239.26,479.24 241.22,483.45 242.62,477.84 244.02,490.45 246.82,486.25 248.78,472.24 250.46,473.64 252.42,483.45 255.22,493.25 258.03,490.45 259.99,487.65 261.67,496.05 263.63,498.85 265.03,504.45 266.43,487.65 268.39,484.85 270.63,476.44 273.43,477.84 275.39,479.24 276.79,493.25 278.47,486.25 280.43,487.65 281.83,497.45 283.24,493.25 284.64,484.85 286.04,493.25 287.44,491.85 290.24,493.25 292.48,497.45 293.88,508.66 295.84,501.65 298.08,497.45 300.04,500.25 302.28,487.65 304.24,496.05 306.48,497.45 306.71,499.28 308.45,504.45 308.86,506.78 310.41,507.25 311.43,505.71 312.65,505.85 313.14,503.57 314.64,506.78 315.71,503.57 317.21,512.14 318.93,492.85 320.43,500.35 322.57,501.42 324.71,498.21 326,496.07 327.07,501.42 328.57,496.07 330.28,496.07 332,480 333.5,486.42 335.43,498.21 337.14,502.49 338.64,497.14 339.93,484.28 341.43,493.92 343.14,504.64 344.85,509.99 346.78,506.78 348.93,504.64 351.07,504.64 353.21,505.71 354.71,508.92 356.42,512.14 358.14,505.71 359.64,503.57 361.14,505.71 362.85,505.71 364.57,493.92 366.07,492.85 367.57,499.28 369.28,507.85 371,504.64 373.14,506.78 374.64,508.92 376.35,511.06 377.42,518.56 379.14,505.71 380.64,507.85 382.14,512.14 384.28,517.49 386.42,515.35 388.57,513.21 390.28,518.56 392.85,520.71 394.57,522.85 396.06,518.56 397.56,527.14 399.28,524.99 400.56,516.42 401.85,506.78 403.14,511.06 404.64,507.85 406.14,514.28 407.85,521.78 409.99,517.49 412.14,524.99 413.21,529.28 414.71,528.21 416.42,531.42 416.71,529.28 418.13,535.71 418.21,535.71 419.63,529.28 419.71,528.21 421.13,522.85 421.43,521.78 422.85,532.49 422.93,533.56 424.64,533.56 426.78,535.71 428.28,537.85 430,534.63 431.71,533.13 433.21,536.78 435.36,539.99 437.07,538.92 439,531.42 440.71,534.63 442.86,535.71 445,536.78 446.5,537.85 448.21,532.49 449.71,532.49 451.43,535.71 453.14,532.49 454.21,531.42 455.71,534.63 457.43,533.56 458.93,534.63 460.43,534.63 462.14,533.56 463.85,532.49 465.57,533.56 467.5,534.63 469.64,536.78 471.78,530.35 473.28,532.49 475,536.78 477.14,537.85 478.64,539.99 480.35,536.78 482.07,538.92 483.57,541.06 485.28,542.13 486.99,537.42 488.92,539.99 490.42,538.92 492.57,534.63 494.71,535.71 496.42,538.92 498.14,541.06 500.28,542.13 502.42,542.56 503.92,535.71 505.42,536.78 507.14,539.99 508.64,527.14 509.92,514.28 511.42,520.71 512.49,522.85 513.99,519.64 515.71,528.21 517.42,535.71 518.92,529.28 520.64,520.71 522.14,522.85 523.64,527.14 525.99,529.28" fill="none" stroke="#FFC000" stroke-width="2.3" stroke-linejoin="round" stroke-linecap="round"/>
</svg>
<svg width="1080" height="607" viewBox="0 0 1080 607">
<rect x="541.9" y="327.8" width="471.1" height="188.1" fill="none" stroke="#4472C4" stroke-width="1.6" stroke-dasharray="4.7 3.2"/>
<polygon points="552,345.2 563.7,352 555.5,352.2" fill="none" stroke="#333" stroke-width="0.6" stroke-linejoin="round"/>
<polygon points="555.5,352.2 563.7,352 552,359" fill="#000"/>
</svg>
<div class="ln" style="top:338.7px">截至<b>1</b>月<b>23</b>日当周，沥青毛利<b>218</b>元<b>/</b>吨（<b class="pm">&#xB1;</b><b>0</b>），</div>
<div class="ln" style="top:374.95px">沥青生产成本<b>2897</b>元<b>/</b>吨（<b class="pm">&#xB1;</b><b>0</b>），国内稀释沥青</div>
<div class="ln" style="top:411.2px">港口库存<b>44</b>万吨（<b>-3</b>），山东多数炼厂短期原料</div>
<div class="ln" style="top:447.45px">供应稳定，持续关注委内瑞拉事件是否影响原料</div>
<div class="ln" style="top:483.7px;text-align-last:left">供应。</div>
<div class="ct" id="ct1" style="left:230.5px;top:84.6px">沥青生产毛利（元<i>/</i>吨）</div>
<div class="ct" id="ct2" style="left:705px;top:84.6px">沥青生产成本（元<i>/</i>吨）</div>
<div class="ct" id="ct3" style="letter-spacing:-0.25px;left:207.8px;top:333.6px">中国稀释沥青港口库存（万吨）</div>
<div id="pg">21</div>
<div id="src">资料来源：百川资讯、隆众资讯，海证期货研究所</div>
</div></body></html>
